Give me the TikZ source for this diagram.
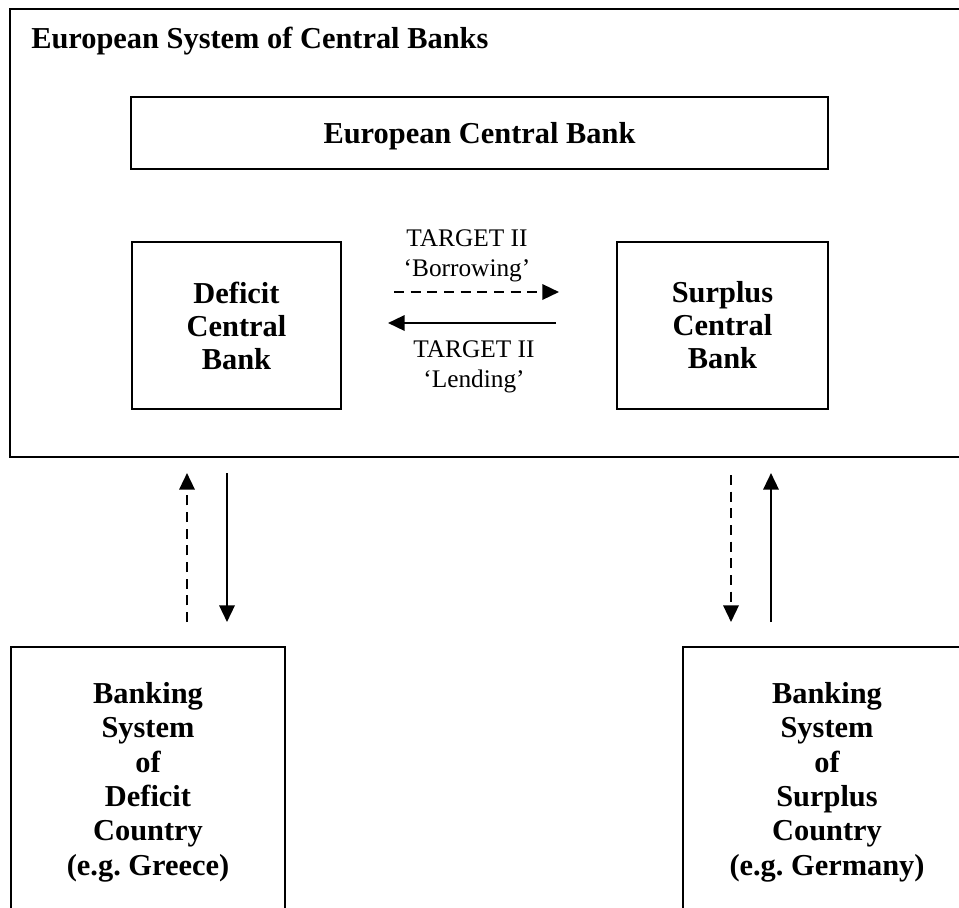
\documentclass[tikz,border=0pt]{standalone}
\usepackage{fontspec}
\setmainfont{Liberation Serif}
\usetikzlibrary{arrows.meta}
\tikzset{
  box/.style={draw, line width=1.4pt, align=center, inner sep=0pt,
    font=\fontsize{22.8}{24.75}\selectfont\bfseries},
  bank/.style={align=center, inner sep=0pt,
    font=\fontsize{22.8}{25.8}\selectfont\bfseries},
  lbl/.style={align=center, inner sep=0pt, font=\fontsize{19}{22.5}\selectfont},
  flow/.style={line width=1.8pt, -{Triangle[length=12.5pt,width=11.5pt]}},
  flowdash/.style={flow, dash pattern=on 7.5pt off 5pt},
}
\begin{document}
\begin{tikzpicture}[x=0.75pt,y=-0.75pt]
    \useasboundingbox (0,0) rectangle (959,907);
    \clip (0,0) rectangle (959,907);
    % eurosystem frame
    \draw[line width=1.4pt] (10,9) rectangle (990,457);
    \node[bank, anchor=base west] (escb) at (31,48) {European System of Central Banks};
    \node[box, minimum width=522.75pt, minimum height=54pt, text depth=0pt] (ecb) at (479.5,133) {European Central Bank};
    \node[box, minimum width=156.75pt, minimum height=125.25pt] (dcb) at (236.5,325.5) {Deficit\\Central\\Bank};
    \node[box, minimum width=158.25pt, minimum height=125.25pt] (scb) at (722.5,325.5) {Surplus\\Central\\Bank};
    % TARGET II flows
    \coordinate (bor1) at (394,292);
    \coordinate (bor2) at (559,292);
    \coordinate (len1) at (556,323);
    \coordinate (len2) at (388,323);
    \draw[flowdash] (bor1) -- (bor2);
    \draw[flow] (len1) -- (len2);
    \node[lbl] (borrow) at (467,256) {TARGET II\\‘Borrowing’};
    \node[lbl] (lend) at (474,367) {TARGET II\\‘Lending’};
    % national banking systems
    \draw[line width=1.4pt] (11,647) rectangle (285,940);
    \draw[line width=1.4pt] (683,647) rectangle (990,940);
    \node[bank] (dbs) at (148,782) {Banking\\System\\of\\Deficit\\Country\\(e.g.\ Greece)};
    \node[bank] (sbs) at (827,782) {Banking\\System\\of\\Surplus\\Country\\(e.g.\ Germany)};
    % vertical flows
    \coordinate (dup1) at (187,622);
    \coordinate (dup2) at (187,473);
    \coordinate (ddn1) at (227,473);
    \coordinate (ddn2) at (227,622);
    \coordinate (sdn1) at (731,475);
    \coordinate (sdn2) at (731,622);
    \coordinate (sup1) at (771,622);
    \coordinate (sup2) at (771,473);
    \draw[flowdash] (dup1) -- (dup2);
    \draw[flow] (ddn1) -- (ddn2);
    \draw[flowdash] (sdn1) -- (sdn2);
    \draw[flow] (sup1) -- (sup2);
\end{tikzpicture}
\end{document}
